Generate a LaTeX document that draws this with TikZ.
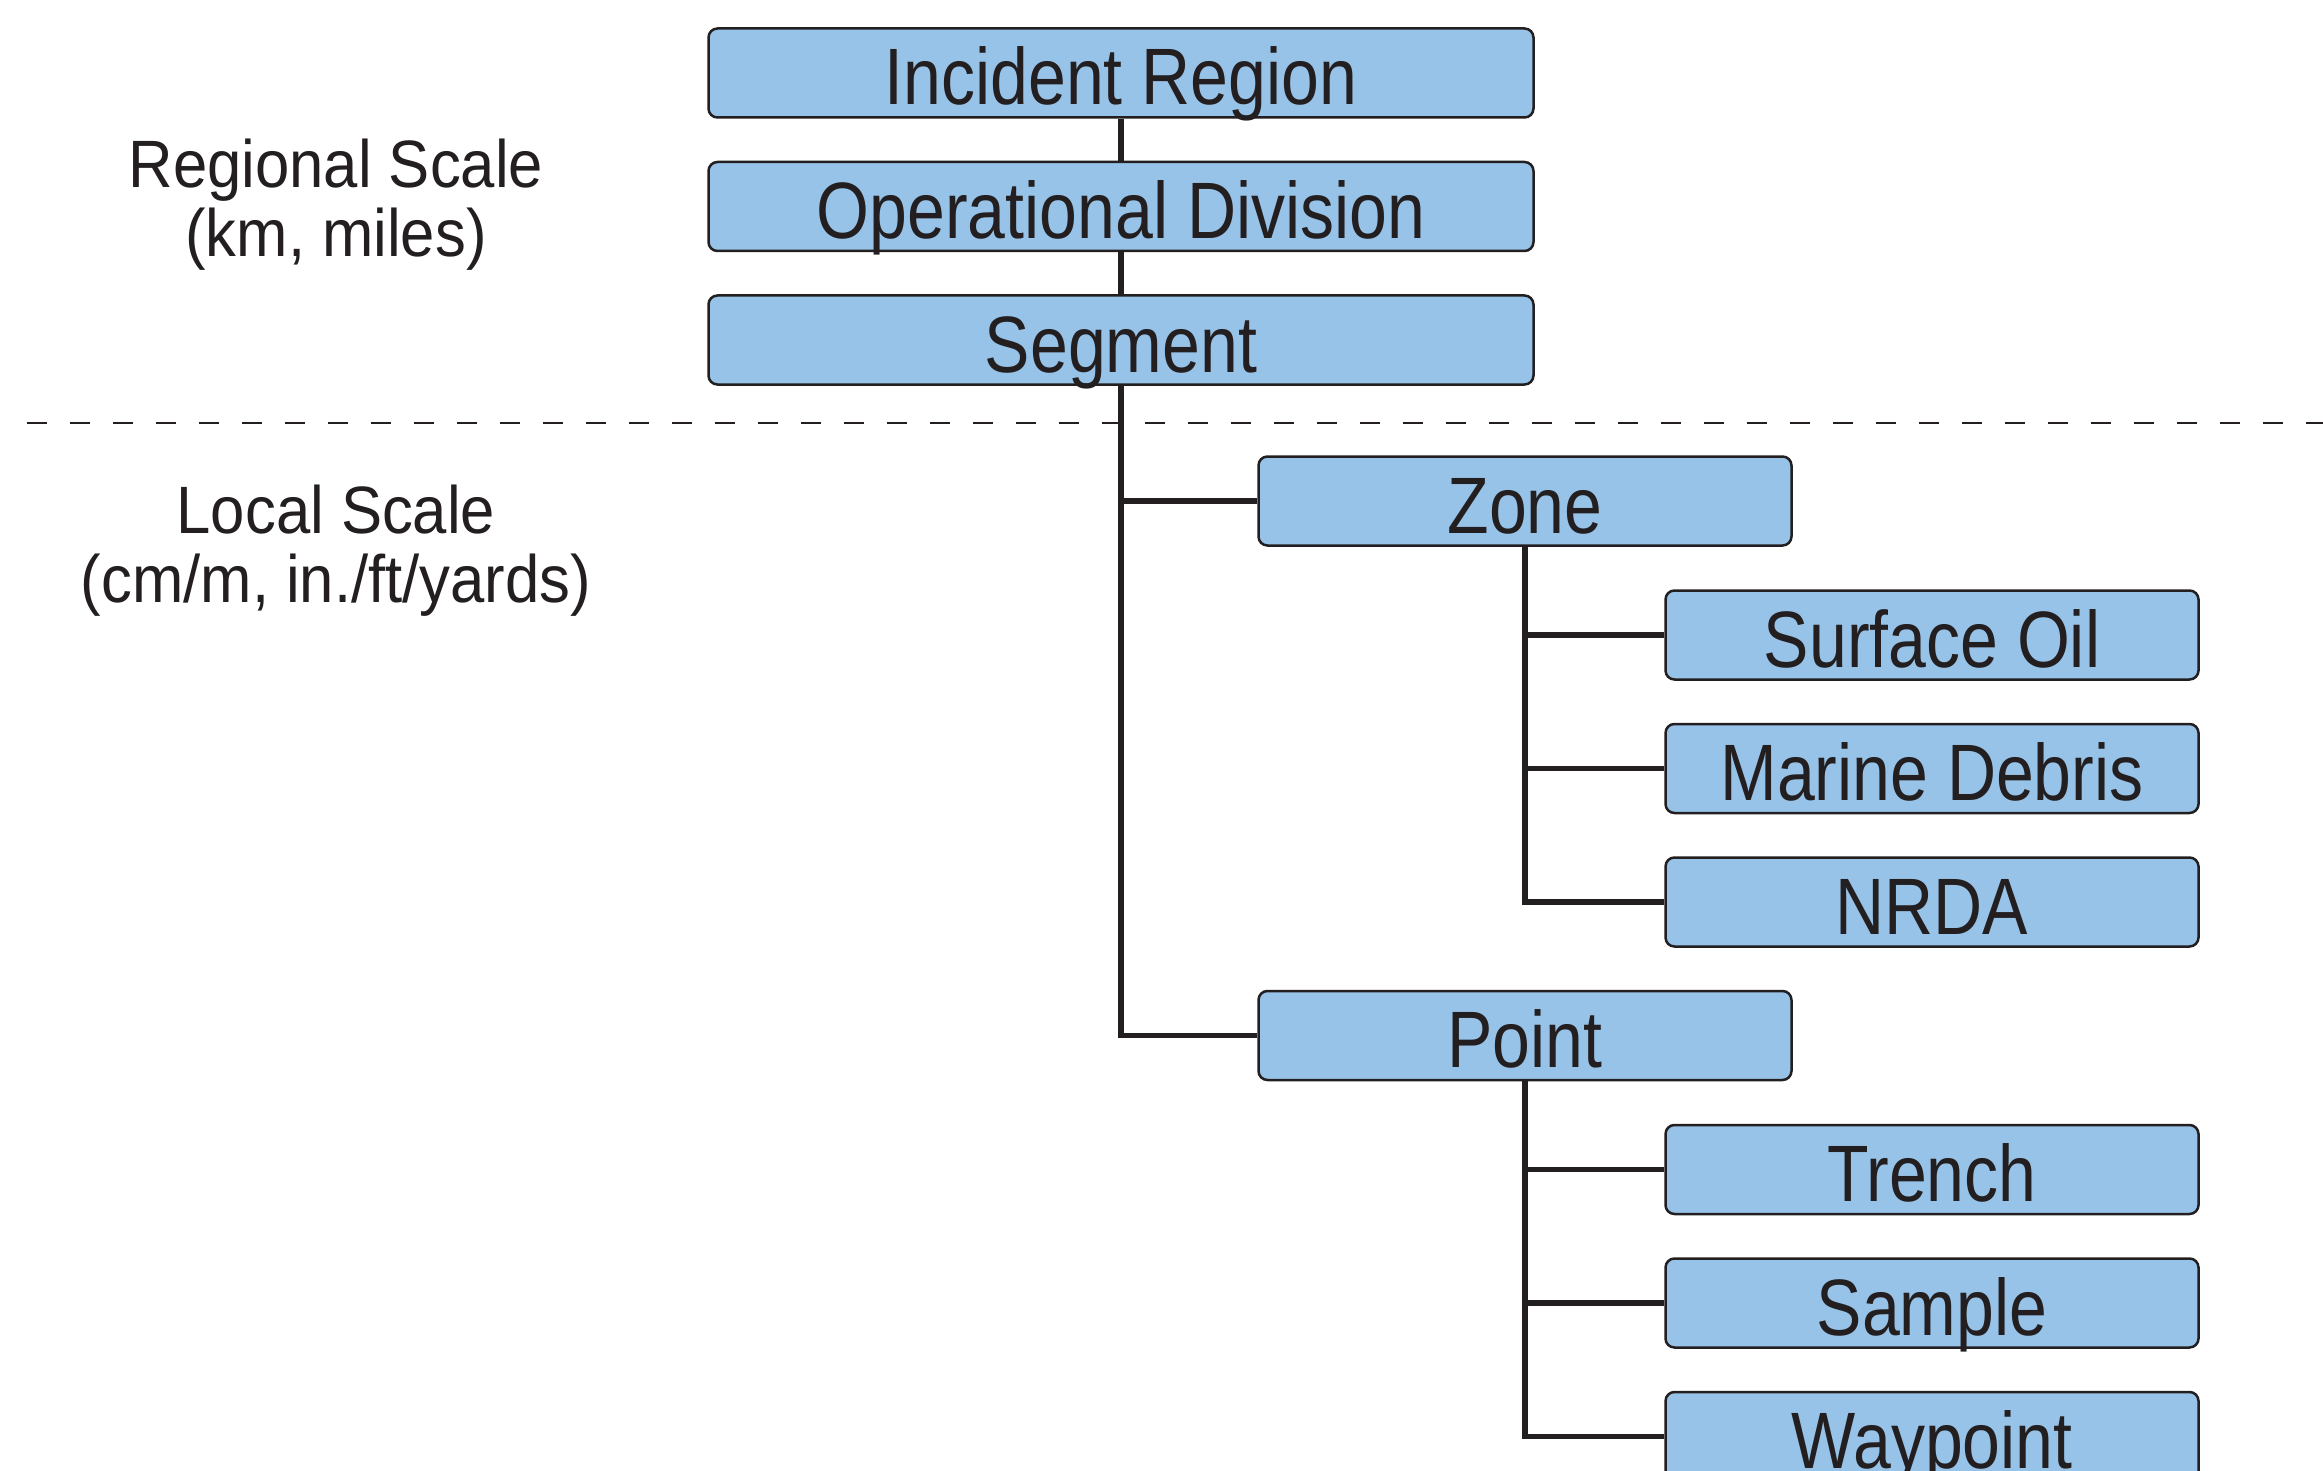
\documentclass[tikz,border=0pt]{standalone}
\usepackage{fontspec}
\setmainfont{Liberation Sans}[FakeStretch=0.85]
\newfontfamily\labelfont{Liberation Sans}[FakeStretch=0.92]
\usetikzlibrary{positioning}
\definecolor{boxblue}{RGB}{152,195,232}
\definecolor{inkblack}{RGB}{35,31,32}

\begin{document}
\begin{tikzpicture}[
    x=1pt, y=-1pt,
    node distance=42pt,
    every node/.style={text=inkblack},
    levelbox/.style={draw=inkblack, line width=2.5pt, fill=boxblue, rounded corners=9pt,
        minimum height=89pt, inner sep=0pt, text height=64pt, text depth=0pt,
        font=\fontsize{80}{96}\selectfont},
    widebox/.style={levelbox, minimum width=825pt},
    narrowbox/.style={levelbox, minimum width=533pt},
    scalelabel/.style={align=center, font=\labelfont\fontsize{67}{69}\selectfont},
    link/.style={draw=inkblack, line width=5.5pt},
    divider/.style={draw=inkblack, line width=2.5pt, dash pattern=on 20pt off 23pt}
  ]
  \useasboundingbox (0,0) rectangle (2323,1471);
  \clip (0,0) rectangle (2323,1471);

  % regional scale
  \node[widebox] (inc) at (1121,73) {Incident Region};
  \node[widebox, below=of inc] (opd) {Operational Division};
  \node[widebox, below=of opd] (seg) {Segment};

  % local scale
  \node[narrowbox] (zone) at (1525,501) {Zone};
  \node[narrowbox] (oil) at (1932,635) {Surface Oil};
  \node[narrowbox, below=of oil] (debris) {Marine Debris};
  \node[narrowbox, below=of debris] (nrda) {NRDA};
  \node[narrowbox] (pnt) at (1525,1035.5) {Point};
  \node[narrowbox] (trench) at (1932,1169.5) {Trench};
  \node[narrowbox, below=of trench] (sample) {Sample};
  \node[narrowbox, below=of sample] (waypt) {Waypoint};

  % scale labels (base = last line)
  \node[scalelabel, anchor=base] (regional) at (336,257) {Regional Scale\\(km, miles)};
  \node[scalelabel, anchor=base] (local) at (336,602) {Local Scale\\(cm/m, in./ft/yards)};

  \coordinate (divl) at (27,423);
  \coordinate (divr) at (2323,423);
  \draw[divider] (divl) -- (divr);

  \draw[link] (inc) -- (opd);
  \draw[link] (opd) -- (seg);
  \draw[link] (seg.south) |- (zone.west);
  \draw[link] (seg.south) |- (pnt.west);
  \draw[link] (zone.south) |- (oil.west);
  \draw[link] (zone.south) |- (debris.west);
  \draw[link] (zone.south) |- (nrda.west);
  \draw[link] (pnt.south) |- (trench.west);
  \draw[link] (pnt.south) |- (sample.west);
  \draw[link] (pnt.south) |- (waypt.west);
\end{tikzpicture}
\end{document}
